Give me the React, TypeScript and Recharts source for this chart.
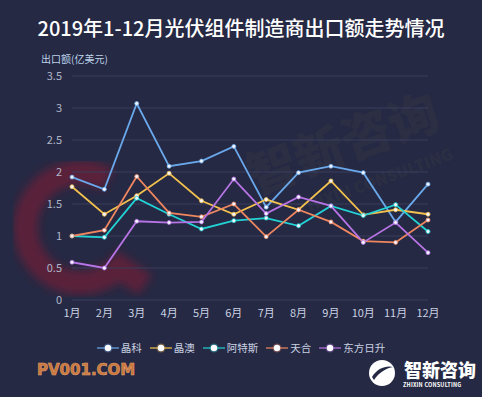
import React from 'react';
import { LineChart, Line, XAxis, YAxis, CartesianGrid } from 'recharts';

const months = ['1月', '2月', '3月', '4月', '5月', '6月', '7月', '8月', '9月', '10月', '11月', '12月'];
const jinko = [1.92, 1.73, 3.07, 2.09, 2.17, 2.4, 1.45, 1.99, 2.09, 1.99, 1.22, 1.81];
const jaSolar = [1.77, 1.34, 1.63, 1.98, 1.55, 1.34, 1.57, 1.41, 1.86, 1.33, 1.41, 1.34];
const canadian = [1.0, 0.98, 1.59, 1.34, 1.11, 1.24, 1.28, 1.16, 1.47, 1.32, 1.49, 1.07];
const trina = [1.0, 1.09, 1.93, 1.36, 1.3, 1.5, 0.99, 1.41, 1.22, 0.92, 0.9, 1.25];
const risen = [0.59, 0.5, 1.23, 1.21, 1.22, 1.89, 1.35, 1.61, 1.47, 0.9, 1.21, 0.74];
const yTicks = [0, 0.5, 1, 1.5, 2, 2.5, 3, 3.5];

const series = [
  { key: 'jinko', name: '晶科', color: '#6aa8ec', values: jinko },
  { key: 'ja', name: '晶澳', color: '#f3c14e', values: jaSolar },
  { key: 'cs', name: '阿特斯', color: '#22d3d6', values: canadian },
  { key: 'trina', name: '天合', color: '#ee8660', values: trina },
  { key: 'risen', name: '东方日升', color: '#b774e6', values: risen },
];

const data = months.map((m, i) => {
  const row: any = { month: m };
  series.forEach((s) => (row[s.key] = s.values[i]));
  return row;
});

const font = '"Noto Sans CJK SC", "Noto Sans", sans-serif';

const LegendBox = () => (
  <div style={{ position: 'absolute', left: 0, top: 340, width: 482, display: 'flex', justifyContent: 'center', gap: 8, fontSize: 10.5, color: '#c9d1e2' }}>
    {series.map((s) => (
      <div key={s.key} style={{ display: 'flex', alignItems: 'center', gap: 2 }}>
        <svg width={22} height={12}>
          <line x1={0} y1={6} x2={22} y2={6} stroke={s.color} strokeWidth={1.2} />
          <circle cx={11} cy={6} r={4.5} fill={s.color} opacity={0.35} />
          <circle cx={11} cy={6} r={3.2} fill="#fbfbff" />
        </svg>
        <span>{s.name}</span>
      </div>
    ))}
  </div>
);

const renderDot = (color: string) => (props: any) => (
  <circle key={props.index} cx={props.cx} cy={props.cy} r={2} fill="#f2f4ff" stroke={color} strokeWidth={0.8} />
);

export default function App() {
  return (
    <div style={{ position: 'absolute', left: 0, top: 0, width: 482, height: 397, background: '#262943', overflow: 'hidden', fontFamily: font }}>
      <svg width={482} height={397} style={{ position: 'absolute', left: 0, top: 0 }}>
        <defs>
          <filter id="blur"><feGaussianBlur stdDeviation="4" /></filter>
        </defs>
        <path d="M 108 180 A 55 55 0 1 0 119 267 L 145 285" fill="none" stroke="#7e1a35" strokeWidth={24} opacity={0.6} filter="url(#blur)" />
        <text x={255} y={195} fontSize={50} fontWeight={900} fill="#2c2f44" transform="rotate(-20 255 195)">智新咨询</text>
        <text x={300} y={215} fontSize={16} fontWeight={900} fill="#2c2f44" transform="rotate(-20 300 215)">ZHIXIN CONSULTING</text>
      </svg>
      <div style={{ position: 'absolute', left: 0, top: 13, width: 482, textAlign: 'center', color: '#ffffff', fontSize: 20, fontWeight: 500 }}>
        2019年1-12月光伏组件制造商出口额走势情况
      </div>
      <div style={{ position: 'absolute', left: 41, top: 51, color: '#bcd3ea', fontSize: 10 }}>出口额(亿美元)</div>
      <div style={{ position: 'absolute', left: 0, top: 0 }}>
        <LineChart width={482} height={397} data={data} margin={{ top: 76, right: 54, bottom: 67, left: 0 }}>
          <CartesianGrid vertical={false} stroke="#3b3f5c" />
          <XAxis
            dataKey="month"
            axisLine={false}
            tickLine={false}
            padding={{ left: 0, right: 0 }}
            tick={{ fill: '#c9d1e2', fontSize: 11 }}
            tickMargin={3}
            interval={0}
          />
          <YAxis
            width={72}
            domain={[0, 3.5]}
            ticks={yTicks}
            axisLine={false}
            tickLine={false}
            tick={{ fill: '#aeb6c8', fontSize: 11 }}
            tickMargin={4}
          />
          {series.map((s) => (
            <Line
              key={s.key}
              type="linear"
              dataKey={s.key}
              name={s.name}
              stroke={s.color}
              strokeWidth={1.8}
              dot={renderDot(s.color)}
              activeDot={false}
              isAnimationActive={false}
            />
          ))}
        </LineChart>
      </div>
      <LegendBox />
      <div style={{ position: 'absolute', left: 37, top: 361, fontSize: 15, fontWeight: 700, color: '#c9773c', fontFamily: '"DejaVu Sans", sans-serif', WebkitTextStroke: '0.6px #e0a070' }}>
        PV001.COM
      </div>
      <svg width={30} height={30} style={{ position: 'absolute', left: 367, top: 358 }}>
        <circle cx={15} cy={15} r={13} fill="#ffffff" />
        <path d="M5 19 C 10 10, 20 7, 26 9 C 20 10, 12 14, 7 22 Z" fill="#262943" />
      </svg>
      <div style={{ position: 'absolute', left: 404, top: 356, fontSize: 18, fontWeight: 900, color: '#ffffff' }}>智新咨询</div>
      <div style={{ position: 'absolute', left: 403, top: 381, fontSize: 5.5, fontWeight: 700, color: '#ffffff', letterSpacing: 0.2 }}>ZHIXIN CONSULTING</div>
    </div>
  );
}
